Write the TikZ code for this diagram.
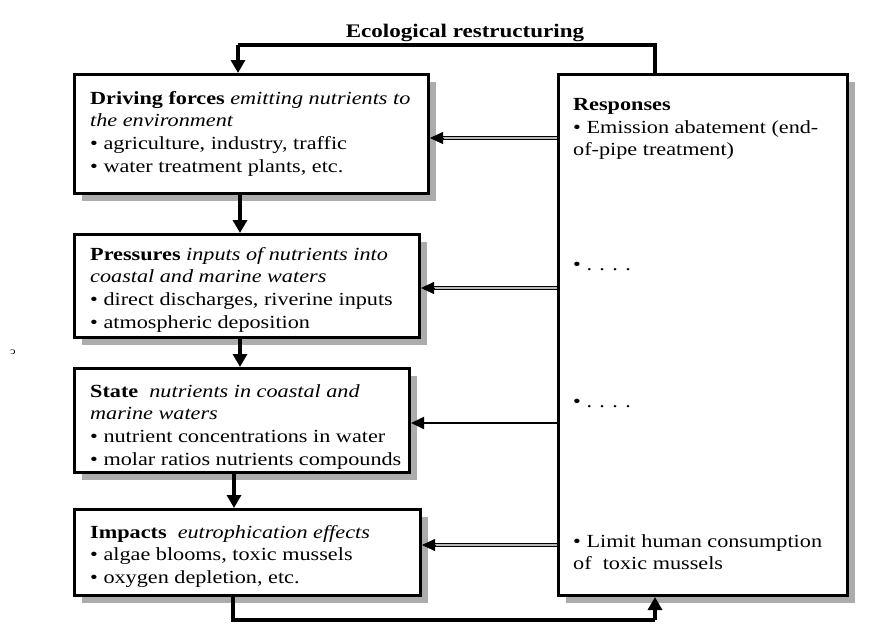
\documentclass[tikz,border=0pt]{standalone}
\usepackage{fontspec}
\setmainfont{Liberation Serif}[FakeStretch=1.2]
\usetikzlibrary{arrows.meta,shadows,calc}
\begin{document}
\begin{tikzpicture}[x=1pt,y=-1pt,
  box/.style={draw,line width=3pt,fill=white,anchor=north west,inner sep=0pt,
    drop shadow={shadow xshift=7pt,shadow yshift=-7pt,fill=gray!65,opacity=1}},
  txt/.style={anchor=north west,align=left,inner sep=0pt,font=\fontsize{18.5}{22.7}\selectfont},
  flow/.style={line width=4pt,-{Triangle[length=13pt,width=14pt]}},
  loop/.style={line width=4pt},
  dbl/.style={draw=black,line width=0.8pt,double=gray!55,double distance=2.2pt},
  tip/.style={-{Triangle[length=13pt,width=12pt]},line width=0.8pt}]
\useasboundingbox (0,0) rectangle (886,624);
\node[box,minimum width=354pt,minimum height=119pt] (df) at (73,73) {};
\node[box,minimum width=345pt,minimum height=103pt] (pr) at (73,233) {};
\node[box,minimum width=335pt,minimum height=104pt] (st) at (73,367) {};
\node[box,minimum width=346pt,minimum height=86pt] (im) at (73,508) {};
\node[box,minimum width=289pt,minimum height=521pt] (re) at (557,73) {};

\node[txt] (dft) at (90,91) {\textbf{Driving forces} \textit{emitting nutrients to}\\\textit{the environment}\\\textbullet{} agriculture, industry, traffic\\\textbullet{} water treatment plants, etc.};
\node[txt] (prt) at (90,247) {\textbf{Pressures} \textit{inputs of nutrients into}\\\textit{coastal and marine waters}\\\textbullet{} direct discharges, riverine inputs\\\textbullet{} atmospheric deposition};
\node[txt] (stt) at (90,384) {\textbf{State} \ \textit{nutrients in coastal and}\\\textit{marine waters}\\\textbullet{} nutrient concentrations in water\\\textbullet{} molar ratios nutrients compounds};
\node[txt] (imt) at (90,525) {\textbf{Impacts} \ \textit{eutrophication effects}\\\textbullet{} algae blooms, toxic mussels\\\textbullet{} oxygen depletion, etc.};

\node[txt] (ret) at (573,98) {\textbf{Responses}\\\textbullet{} Emission abatement (end-\\of-pipe treatment)};
\node[txt] (r2) at (573,262) {\textbullet{} . . . .};
\node[txt] (r3) at (573,399) {\textbullet{} . . . .};
\node[txt] (r4) at (573,534) {\textbullet{} Limit human consumption\\of \ toxic mussels};

\node[font=\bfseries\fontsize{19.2}{22}\selectfont,inner sep=0pt] (eco) at (465,33) {Ecological restructuring};

\node[inner sep=0pt,font=\fontsize{10}{10}\selectfont] (mark) at (13,352) {\reflectbox{c}};

% vertical flow
\draw[flow] (df.south -| 240,0) -- (pr.north -| 240,0);
\draw[flow] (pr.south -| 240,0) -- (st.north -| 240,0);
\draw[flow] (st.south -| 234,0) -- (im.north -| 234,0);

% loops
\draw[loop] (re.north -| 655,0) -- (655,45) coordinate (c1) -- (238,45) coordinate (c2);
\draw[flow] (c2) -- (df.north -| 238,0);
\draw[loop] (im.south -| 233,0) -- (233,620) coordinate (c3) -- (655,620) coordinate (c4);
\draw[flow] (c4) -- (re.south -| 655,0);

% response arrows
\foreach \n/\yy in {df/138,pr/288,im/545}{
  \draw[dbl] (re.west |- 0,\yy) -- ($(\n.east |- 0,\yy)+(11,0)$);
  \draw[tip] ($(\n.east |- 0,\yy)+(13,0)$) -- (\n.east |- 0,\yy);
}
\draw[line width=2pt,-{Triangle[length=13pt,width=12pt]}] (re.west |- 0,423) -- (st.east |- 0,423);
\end{tikzpicture}
\end{document}
